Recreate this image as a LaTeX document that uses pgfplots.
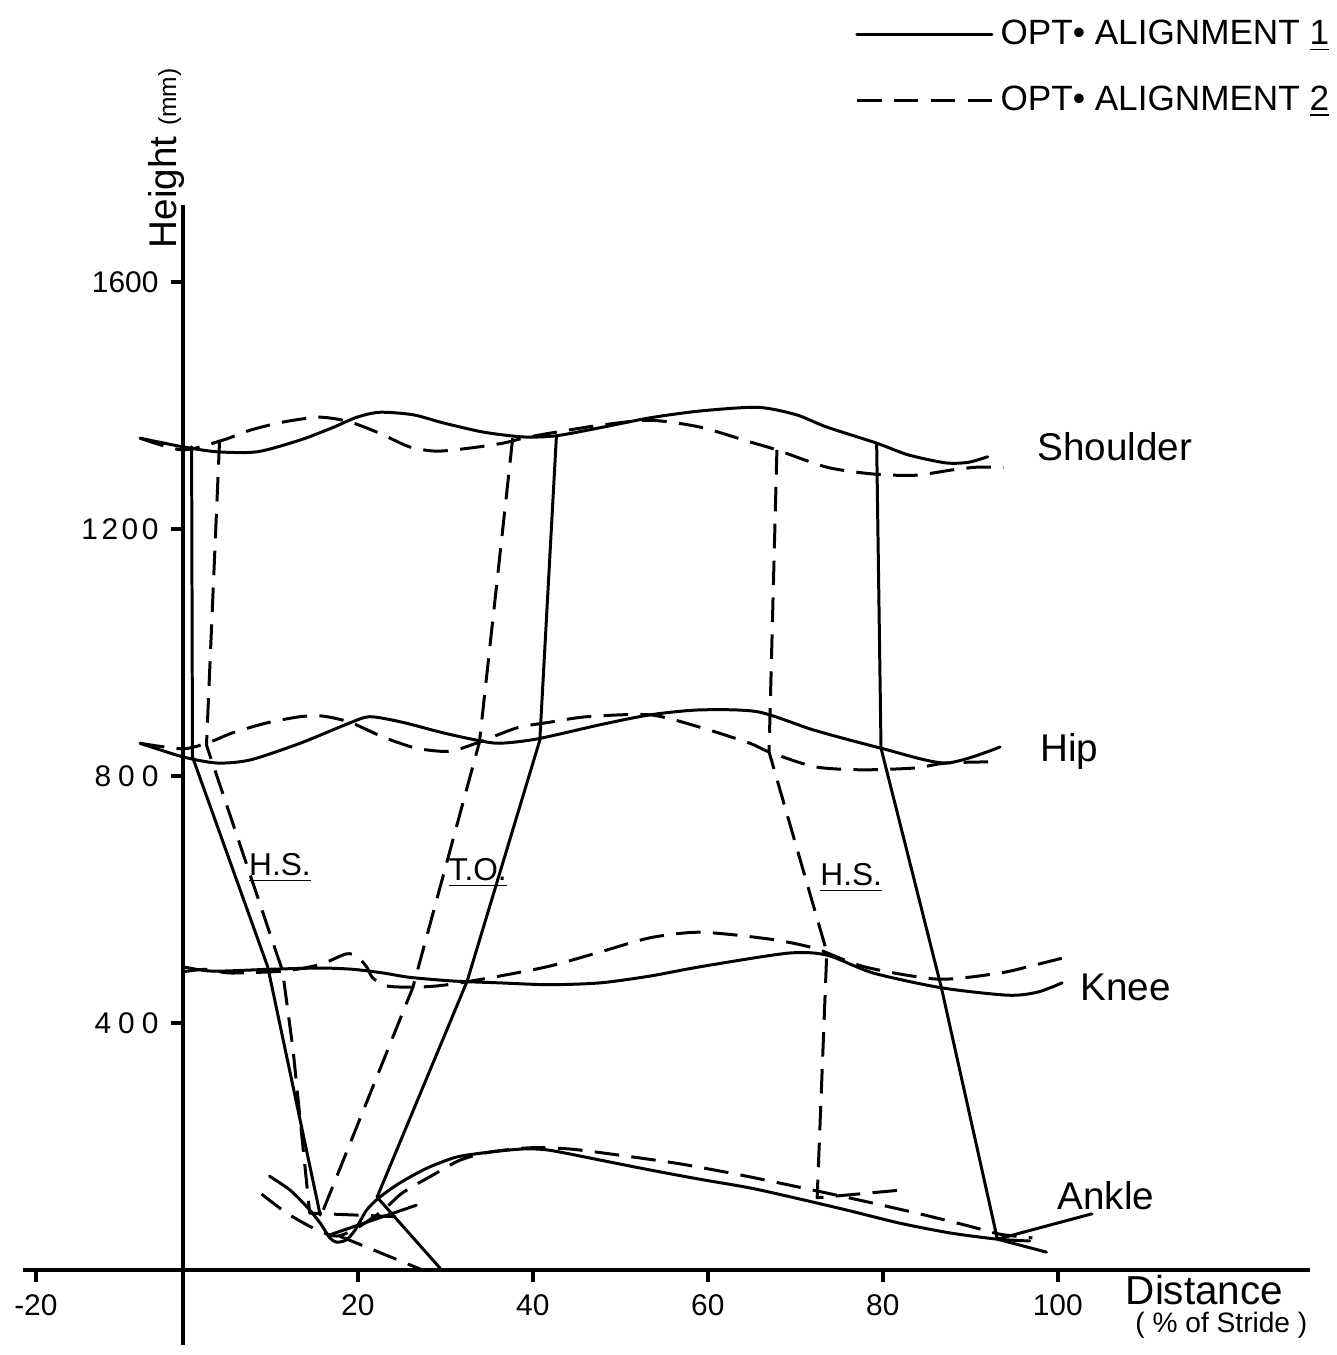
\documentclass[border=0pt]{standalone}
\usepackage{pgfplots}
\pgfplotsset{compat=1.18}
\usepackage{fontspec}
\setmainfont{Liberation Sans}
\tikzset{
  sol/.style={black, line width=0.85pt, line join=round, line cap=round},
  dsh/.style={sol, line cap=butt, dash pattern=on 7pt off 3.5pt},
  lab/.style={font=\fontsize{11}{13}\selectfont, anchor=west, inner sep=0pt},
}
\begin{document}
\begin{tikzpicture}
\begin{axis}[
  scale only axis, width=128.7mm, height=114mm,
  xmin=-18.3, xmax=128.8, ymin=-121, ymax=1725,
  axis lines=middle, axis line style={-, line width=1.1pt},
  clip=false,
  xtick={-16.8,20,40,60,80,100}, xticklabels={-20,20,40,60,80,100},
  ytick={400,800,1200,1600},
  yticklabels={4\hspace{2pt}0\hspace{2pt}0, 8\hspace{2pt}0\hspace{2pt}0, 1\hspace{1pt}2\hspace{1pt}0\hspace{1pt}0, 1600},
  tick align=outside, major tick length=1.2mm,
  tick style={line width=1pt, black},
  ticklabel style={font=\fontsize{8.5}{10}\selectfont},
  /pgf/number format/assume math mode=true,
  legend style={at={(axis cs:76.8,2037)}, anchor=north west, draw=none, fill=none,
    inner sep=0pt, row sep=2.2mm, font=\fontsize{10}{12}\selectfont},
  legend cell align=left,
  legend image code/.code={\draw[#1] (0mm,0mm) -- (13.5mm,0mm);},
]
% shoulder
\addplot[sol, smooth, tension=0.45] coordinates {
(-4.9,1347)(0,1333)(3.9,1325)(8.5,1325)(13.4,1344)(17.1,1364)(19.9,1381)(22.5,1389)(26.3,1385)(29.7,1372)(34.3,1357)(38.9,1349)(42.7,1351)(47.7,1364)(53.4,1380)(59.1,1391)(65.7,1397)(70.1,1385)(73.6,1365)(79.3,1339)(82.9,1320)(87.2,1307)(89.8,1308)(92.0,1317)};
\addlegendentry{OPT\textbullet\ ALIGNMENT \underline{1}}
\addplot[dsh, smooth, tension=0.45] coordinates {
(-4.9,1347)(0,1328)(4.6,1344)(7.7,1360)(11.4,1373)(15.3,1381)(17.6,1378)(19.4,1372)(22.5,1355)(25.9,1333)(29.0,1326)(32.8,1331)(36.6,1339)(38.9,1347)(41.9,1355)(47.7,1368)(53.4,1376)(59.1,1365)(64.8,1341)(67.9,1328)(73.6,1300)(78.9,1289)(83.7,1287)(88.1,1296)(90.7,1300)(93.8,1300)};
\addlegendentry{OPT\textbullet\ ALIGNMENT \underline{2}}
% hip
\addplot[sol, smooth, tension=0.45, forget plot] coordinates {
(-4.9,853)(0,831)(3.9,821)(7.7,826)(13.4,853)(19.1,886)(21.4,896)(25.1,887)(29.7,870)(33.6,858)(36.2,853)(40.5,860)(47.7,883)(53.4,899)(59.1,907)(65.7,904)(72.2,874)(79.8,845)(87.2,821)(93.4,847)};
\addplot[dsh, smooth, tension=0.45, forget plot] coordinates {
(-4.9,853)(0,844)(3.1,855)(5.7,870)(9.6,886)(13.4,896)(16.0,897)(19.1,887)(22.9,863)(26.7,845)(30.5,840)(33.9,855)(38.2,878)(41.9,887)(46.2,896)(53.4,899)(59.1,879)(64.8,853)(67.0,839)(72.2,815)(77.6,810)(83.7,813)(87.2,821)(92.7,823)};
% knee
\addplot[sol, smooth, tension=0.45, forget plot] coordinates {
(0,491)(3.4,484)(9.9,487)(15.7,489)(19.4,487)(22.9,481)(25.9,474)(30.9,468)(36.2,465)(41.9,462)(47.7,465)(53.4,476)(59.1,491)(69.1,513)(73.6,510)(78.9,481)(86.7,457)(94.3,445)(97.7,450)(100.5,465)};
\addplot[dsh, smooth, tension=0.45, forget plot] coordinates {
(0,483)(2.7,487)(5.4,481)(11.4,484)(14.9,492)(16.5,499)(18.7,512)(19.9,508)(21.0,491)(21.7,473)(23.3,460)(26.3,458)(29.0,460)(31.7,465)(36.2,476)(41.9,492)(47.7,515)(53.4,538)(59.1,547)(67.0,536)(72.2,521)(77.9,491)(86.3,471)(93.4,481)(97.4,494)(100.5,505)};
% ankle
\addplot[sol, smooth, tension=0.45, forget plot] coordinates {
(9.9,152)(12.2,130)(14.2,102)(15.7,76)(16.8,52)(17.6,45)(18.7,49)(19.7,65)(21.0,97)(22.5,118)(24.8,141)(27.9,165)(31.3,183)(35.1,191)(38.9,196)(41.9,194)(47.7,178)(53.4,162)(59.1,147)(64.8,133)(70.5,115)(76.2,96)(81.9,76)(87.7,60)(93.1,50)(96.8,47)};
\addplot[dsh, smooth, tension=0.45, forget plot] coordinates {
(9.0,123)(11.9,92)(15.3,65)(17.6,55)(19.9,68)(22.9,97)(25.1,125)(28.6,154)(31.7,178)(35.1,191)(39.7,198)(44.2,196)(49.9,186)(56.8,172)(63.7,154)(70.5,134)(77.4,113)(84.2,91)(89.9,71)(93.4,58)(97.1,52)};
% segments at heel strike and toe off
\addplot[sol, forget plot] coordinates {(1.0,1333)(1.1,831)(9.7,491)(15.7,89)};
\addplot[sol, forget plot] coordinates {(16.8,57)(26.7,105)};
\addplot[dsh, forget plot] coordinates {(4.2,1344)(2.7,850)(11.4,484)(12.6,356)(14.5,92)(25.1,86)};
\addplot[sol, forget plot] coordinates {(42.7,1351)(40.8,858)(32.5,468)(22.2,118)(29.4,3)};
\addplot[dsh, forget plot] coordinates {(37.7,1347)(33.9,855)(26.3,458)(15.9,92)};
\addplot[dsh, forget plot] coordinates {(17.9,55)(27.4,0)};
\addplot[dsh, forget plot] coordinates {(67.9,1328)(67.0,839)(73.6,515)(72.5,117)(82.5,130)};
\addplot[sol, forget plot] coordinates {(79.3,1339)(79.8,845)(86.7,457)(93.1,50)(103.9,91)};
\addplot[sol, forget plot] coordinates {(93.1,50)(98.7,29)};
% labels
\node[lab] at (axis cs:97.6,1333) {Shoulder};
\node[lab] at (axis cs:97.9,839) {Hip};
\node[lab] at (axis cs:102.5,457) {Knee};
\node[lab] at (axis cs:99.9,121) {Ankle};
\node[lab, font=\fontsize{9}{11}\selectfont] at (axis cs:7.5,651) {\underline{H.S.}};
\node[lab, font=\fontsize{9}{11}\selectfont] at (axis cs:30.3,643) {\underline{T.O.}};
\node[lab, font=\fontsize{9}{11}\selectfont] at (axis cs:72.8,635) {\underline{H.S.}};
\node[lab, font=\fontsize{11.5}{13}\selectfont] at (axis cs:107.7,-32) {Distance};
\node[lab, font=\fontsize{8}{10}\selectfont] at (axis cs:108.8,-89) {( \% of Stride )};
\node[rotate=90, inner sep=0pt, font=\fontsize{11}{13}\selectfont] at (axis cs:-1.9,1800) {Height {\fontsize{7}{9}\selectfont (mm)}};
\path (axis cs:-20.9,-137.6) rectangle (axis cs:131.8,2056.6);
\end{axis}
\end{tikzpicture}
\end{document}
